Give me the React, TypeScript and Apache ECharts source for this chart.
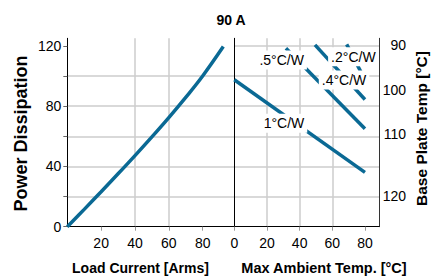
import React, { useEffect, useRef } from "react";
import * as echarts from "echarts";

// Left panel: power dissipation vs load current
const LOAD_CURRENT = [0, 10, 20, 30, 40, 50, 60, 70, 80, 92.2];
const POWER_DISSIPATION = [0, 11.5, 23.2, 35.1, 47.2, 59.6, 72.4, 85.8, 100, 119.5];

// Right panel: heatsink derating lines (ambient temp vs power)
const HEATSINK_NAMES = ["1°C/W", ".5°C/W", ".4°C/W", ".2°C/W"];
const AMBIENT_START = [0, 31.6, 49.4, 68.8];
const POWER_START = [97.5, 118.4, 120.6, 121];
const AMBIENT_END = [80, 80, 80, 80];
const POWER_END = [36, 65, 84.4, 97.5];
const LABEL_AMBIENT = [30.4, 29.0, 67.2, 72.9];
const LABEL_POWER = [68.6, 110.6, 97.3, 112.8];

// Axis ticks / labels
const LOAD_TICKS = [20, 40, 60, 80];
const AMBIENT_TICKS = [0, 20, 40, 60, 80];
const POWER_LABELS = [0, 40, 80, 120];
const POWER_TICKS = [0, 20, 40, 60, 80, 100, 120];
const BASE_TEMP_LABELS = ["90", "100", "110", "120"];
const BASE_TEMP_AT_POWER = [120.6, 90.4, 61.2, 20.4];

const FONT = "'Liberation Sans', Arial, Helvetica, sans-serif";
const LINE_COLOR = "#0a6994";
const GRID_COLOR = "#cccccc";
const TEXT_COLOR = "#000000";

export default function App() {
  const ref = useRef<HTMLDivElement>(null);

  useEffect(() => {
    if (!ref.current) return;
    const chart = echarts.init(ref.current, null, { renderer: "svg" });

    const gridTop = 38.3;
    const gridHeight = 188.4;

    const splitLine = {
      show: true,
      showMinLine: false,
      showMaxLine: false,
      lineStyle: { color: GRID_COLOR, width: 1.5 },
    };

    const labelStyle = {
      fontFamily: FONT,
      fontSize: 14,
      color: TEXT_COLOR,
    };

    const curveData = LOAD_CURRENT.map((a, i) => [a, POWER_DISSIPATION[i]]);

    const heatsinkSeries = HEATSINK_NAMES.map((name, i) => ({
      type: "line",
      name,
      xAxisIndex: 1,
      yAxisIndex: 1,
      symbol: "none",
      z: 2,
      lineStyle: { color: LINE_COLOR, width: 3.5 },
      data: [
        [AMBIENT_START[i], POWER_START[i]],
        [AMBIENT_END[i], POWER_END[i]],
      ],
    }));

    const option: any = {
      animation: false,
      backgroundColor: "#ffffff",
      grid: [
        { left: 67.3, top: gridTop, width: 167, height: gridHeight },
        { left: 234.3, top: gridTop, width: 144.7, height: gridHeight },
      ],
      xAxis: [
        {
          type: "value",
          gridIndex: 0,
          min: 0,
          max: 98.7,
          interval: 20,
          axisLine: { show: true, lineStyle: { color: "#000", width: 1 } },
          axisTick: {
            show: true,
            customValues: LOAD_TICKS,
            length: 4,
            lineStyle: { color: "#999" },
          },
          axisLabel: { ...labelStyle, customValues: LOAD_TICKS, margin: 9 },
          splitLine,
        },
        {
          type: "value",
          gridIndex: 1,
          min: 0,
          max: 88.6,
          interval: 20,
          axisLine: { show: true, lineStyle: { color: "#000", width: 1 } },
          axisTick: {
            show: true,
            customValues: AMBIENT_TICKS,
            length: 4,
            lineStyle: { color: "#999" },
          },
          axisLabel: { ...labelStyle, customValues: AMBIENT_TICKS, margin: 9 },
          splitLine,
        },
      ],
      yAxis: [
        {
          type: "value",
          gridIndex: 0,
          position: "left",
          min: 0,
          max: 125,
          interval: 20,
          axisLine: { show: true, lineStyle: { color: "#000", width: 1 } },
          axisTick: {
            show: true,
            customValues: POWER_TICKS,
            length: 4,
            lineStyle: { color: "#666" },
          },
          axisLabel: { ...labelStyle, customValues: POWER_LABELS, margin: 6 },
          splitLine,
        },
        {
          type: "value",
          gridIndex: 1,
          position: "left",
          min: 0,
          max: 125,
          interval: 20,
          axisLine: { show: true, onZero: false, lineStyle: { color: "#000", width: 1 } },
          axisTick: { show: false },
          axisLabel: { show: false },
          splitLine,
        },
        {
          type: "value",
          gridIndex: 1,
          position: "right",
          min: 0,
          max: 125,
          axisLine: { show: true, onZero: false, lineStyle: { color: "#333", width: 1 } },
          axisTick: { show: false },
          splitLine: { show: false },
          axisLabel: {
            ...labelStyle,
            customValues: BASE_TEMP_AT_POWER,
            align: "right",
            margin: 27,
            formatter: (v: number) => {
              let best = 0;
              let bestD = Infinity;
              BASE_TEMP_AT_POWER.forEach((p, i) => {
                const d = Math.abs(p - v);
                if (d < bestD) {
                  bestD = d;
                  best = i;
                }
              });
              return BASE_TEMP_LABELS[best];
            },
          },
        },
      ],
      series: [
        {
          type: "line",
          name: "Power",
          xAxisIndex: 0,
          yAxisIndex: 0,
          symbol: "none",
          smooth: 0.4,
          lineStyle: { color: LINE_COLOR, width: 3.5 },
          data: curveData,
        },
        ...heatsinkSeries,
        {
          type: "scatter",
          xAxisIndex: 1,
          yAxisIndex: 1,
          z: 10,
          symbolSize: 0,
          itemStyle: { color: "transparent" },
          label: {
            show: true,
            position: "inside",
            formatter: "{b}",
            fontFamily: FONT,
            fontSize: 14,
            color: TEXT_COLOR,
            opacity: 1,
            textBorderWidth: 0,
            backgroundColor: "#ffffff",
            padding: [2, 3],
            lineHeight: 15,
          },
          data: HEATSINK_NAMES.map((name, i) => ({
            name,
            value: [LABEL_AMBIENT[i], LABEL_POWER[i]],
          })),
        },
      ],
      graphic: [
        {
          type: "text",
          x: 231,
          y: 19.5,
          style: {
            text: "90 A",
            fontFamily: FONT,
            fontSize: 14,
            fontWeight: "bold",
            fill: TEXT_COLOR,
            align: "center",
            verticalAlign: "middle",
            textAlign: "center",
            textVerticalAlign: "middle",
          },
        },
        {
          type: "text",
          x: 21,
          y: 133.5,
          rotation: Math.PI / 2,
          style: {
            text: "Power Dissipation",
            fontFamily: FONT,
            fontSize: 18,
            fontWeight: "bold",
            fill: TEXT_COLOR,
            align: "center",
            verticalAlign: "middle",
            textAlign: "center",
            textVerticalAlign: "middle",
          },
        },
        {
          type: "text",
          x: 421,
          y: 128.5,
          rotation: Math.PI / 2,
          style: {
            text: "Base Plate Temp [°C]",
            fontFamily: FONT,
            fontSize: 15.5,
            fontWeight: "bold",
            fill: TEXT_COLOR,
            align: "center",
            verticalAlign: "middle",
            textAlign: "center",
            textVerticalAlign: "middle",
          },
        },
        {
          type: "text",
          x: 140.5,
          y: 268,
          style: {
            text: "Load Current [Arms]",
            fontFamily: FONT,
            fontSize: 14,
            fontWeight: "bold",
            fill: TEXT_COLOR,
            align: "center",
            verticalAlign: "middle",
            textAlign: "center",
            textVerticalAlign: "middle",
          },
        },
        {
          type: "text",
          x: 324,
          y: 268,
          style: {
            text: "Max Ambient Temp. [°C]",
            fontFamily: FONT,
            fontSize: 14.5,
            fontWeight: "bold",
            fill: TEXT_COLOR,
            align: "center",
            verticalAlign: "middle",
            textAlign: "center",
            textVerticalAlign: "middle",
          },
        },
      ],
    };

    chart.setOption(option);
    return () => {
      chart.dispose();
    };
  }, []);

  return (
    <div
      ref={ref}
      style={{ position: "absolute", left: 0, top: 0, width: 435, height: 276, background: "#fff" }}
    />
  );
}
